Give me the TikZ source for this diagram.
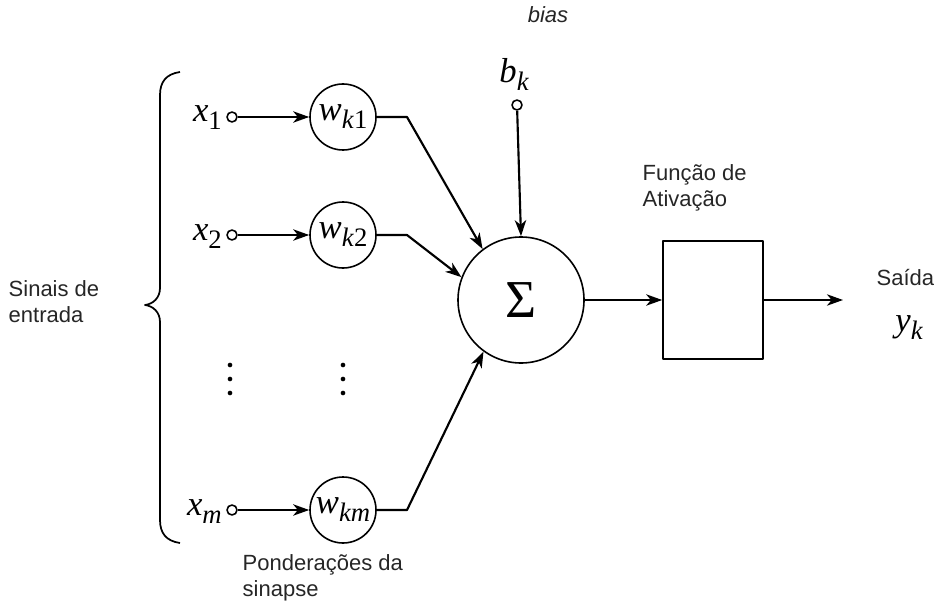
\documentclass[tikz,border=0pt]{standalone}
\usepackage{fontspec}
\setmainfont{Liberation Sans}
\newfontfamily\tms{Liberation Serif}
\usetikzlibrary{arrows.meta}
\newcommand{\sym}[2]{{\fontsize{26}{28}\selectfont\tms\itshape #1}\raisebox{-6pt}{\fontsize{20}{20}\selectfont\tms #2}}
\begin{document}
\begin{tikzpicture}[x=0.75pt,y=-0.75pt, line join=round,
  wire/.style={line width=1.6pt},
  arr/.style={wire,-{Stealth[length=12pt,width=8.5pt,inset=3.5pt]}},
  weight/.style={circle,draw,line width=1.2pt,minimum size=49.5pt,inner sep=0pt},
  port/.style={circle,draw,line width=1.2pt,minimum size=7.5pt,inner sep=0pt,fill=white},
  lbl/.style={font=\fontsize{16.5}{19.5}\selectfont, text=black!85, align=left},
  dotm/.style={circle,fill=black,minimum size=3.5pt,inner sep=0pt}]
\useasboundingbox (0,0) rectangle (938,606);

% input ports and labels
\node[port] (p1) at (232,117) {};
\node[port] (p2) at (232,235) {};
\node[port] (pm) at (232,510) {};
\node[anchor=base east,inner sep=0pt] (x1) at (222,122) {\sym{x}{1}};
\node[anchor=base east,inner sep=0pt] (x2) at (222,240) {\sym{x}{2}};
\node[anchor=base east,inner sep=0pt] (xm) at (222,515) {\sym{x}{\itshape m}};

% weights
\node[weight] (w1) at (343,117) {\sym{w}{\textit{k}1}};
\node[weight] (w2) at (343,235) {\sym{w}{\textit{k}2}};
\node[weight] (wm) at (343,510) {\sym{w}{\textit{km}}};

% dots
\node[dotm] (d1) at (230,365) {};
\node[dotm] (d2) at (230,379) {};
\node[dotm] (d3) at (230,393) {};
\node[dotm] (d4) at (343,365) {};
\node[dotm] (d5) at (343,379) {};
\node[dotm] (d6) at (343,393) {};

% summation and activation
\node[circle,draw,line width=1.2pt,minimum size=94.5pt,inner sep=0pt] (sig) at (521,300) {\fontsize{40}{42}\selectfont\tms Σ};
\node[draw,line width=1.2pt,minimum width=75pt,minimum height=88.5pt] (act) at (713,300) {};

% bias
\node[port] (pb) at (517,105) {};
\node[inner sep=0pt] (bk) at (514,74) {\sym{b}{\itshape k}};
\node[lbl] (bias) at (548,15) {\itshape bias};

% bends
\coordinate (b1) at (407,117);
\coordinate (b2) at (407,235);
\coordinate (bm) at (407,510);
\coordinate (out) at (843,300);

% connectors
\draw[arr] (p1) -- (w1);
\draw[arr] (p2) -- (w2);
\draw[arr] (pm) -- (wm);
\draw[arr] (w1.east) -- (b1) -- (sig.127);
\draw[arr] (w2.east) -- (b2) -- (sig.159);
\draw[arr] (wm.east) -- (bm) -- (sig.234);
\draw[arr] (pb) -- (sig.north);
\draw[arr] (sig) -- (act);
\draw[arr] (act) -- (out);

% brace
\draw[line width=1.3pt] (180,72) .. controls (166,74) and (160,82) .. (160,95)
  -- (160,288) .. controls (160,298) and (153,304) .. (145,305)
  .. controls (153,306) and (160,312) .. (160,322)
  -- (160,520) .. controls (160,533) and (166,541) .. (180,543);

% labels
\node[lbl,anchor=west] (sinais) at (4,302) {Sinais de\\entrada};
\node[lbl,anchor=west] (pond) at (238,578) {Ponderações da\\sinapse};
\node[lbl,anchor=west] (func) at (638,188) {Função de\\Ativação};
\node[lbl,anchor=west] (saida) at (872,278) {Saída};
\node[inner sep=0pt] (yk) at (909,328) {\sym{y}{\itshape k}};
\end{tikzpicture}
\end{document}
